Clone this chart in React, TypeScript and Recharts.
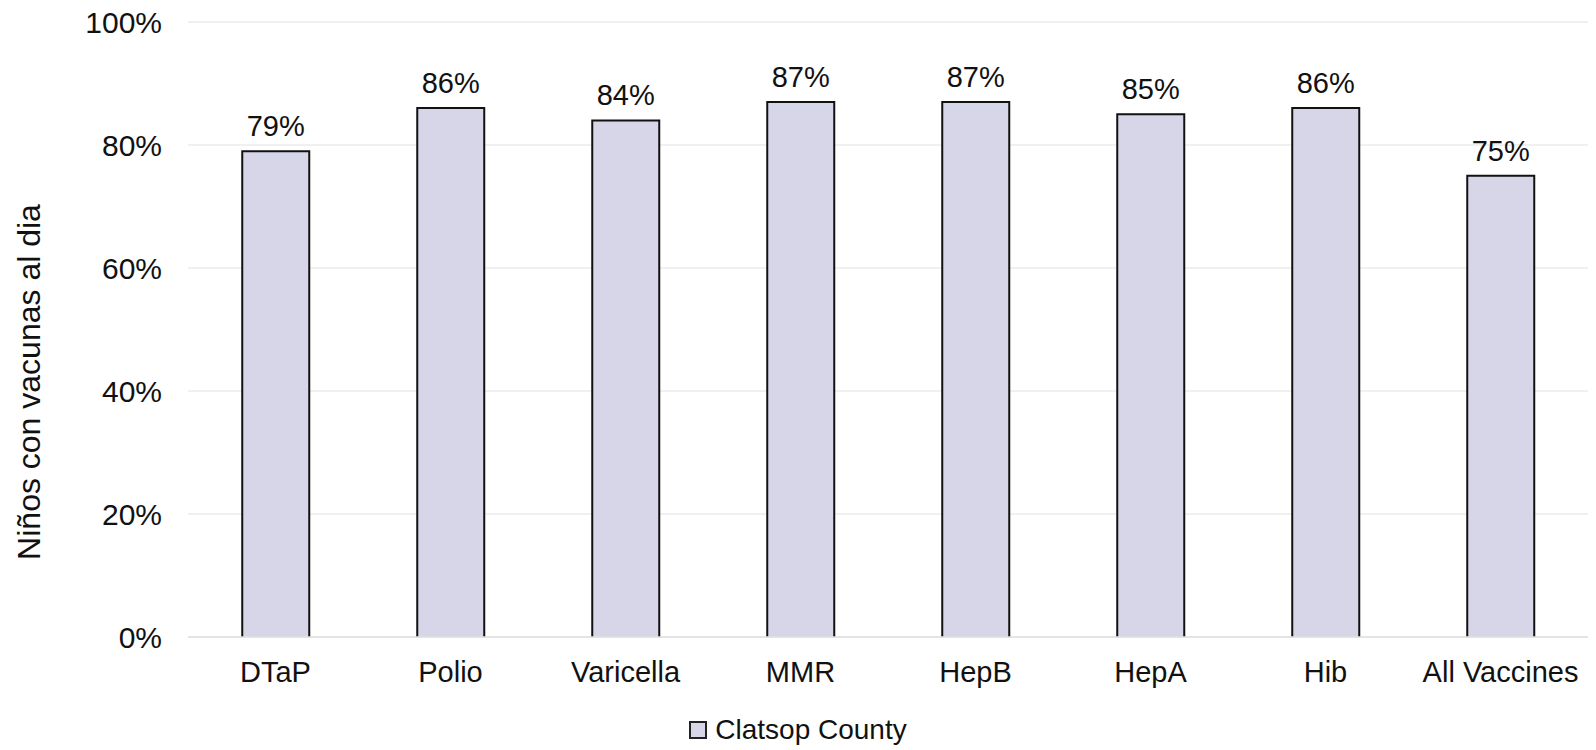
import { BarChart, Bar, XAxis, YAxis, CartesianGrid, Legend, LabelList, Label } from 'recharts'

const vacunas = ['DTaP', 'Polio', 'Varicella', 'MMR', 'HepB', 'HepA', 'Hib', 'All Vaccines']
const clatsop = [79, 86, 84, 87, 87, 85, 86, 75]
const yTicks = [0, 20, 40, 60, 80, 100]

const data = vacunas.map((v, i) => ({ vacuna: v, clatsop: clatsop[i] }))

const FONT = 'Arial, "Liberation Sans", sans-serif'
const FILL = '#d6d6e8'

function OpenBar(props: any) {
  const { x, y, width, height } = props
  if (!height) return null
  return (
    <g>
      <rect x={x} y={y} width={width} height={height} fill={FILL} />
      <path d={`M${x},${y + height} L${x},${y} L${x + width},${y} L${x + width},${y + height}`}
        fill='none' stroke='#111' strokeWidth={2} />
    </g>
  )
}

function LegendBox() {
  return (
    <div style={{ display:'flex', alignItems:'center', justifyContent:'center',
      fontFamily: FONT, fontSize:'28px', color:'#111', lineHeight:'32px' }}>
      <span style={{ display:'inline-block', width:'14px', height:'14px', background:FILL,
        border:'2px solid #222', marginRight:'8px' }} />
      Clatsop County
    </div>
  )
}

export default function App() {
  return (
    <div style={{ position:'absolute', left:0, top:0, width:1596, height:750, background:'#fff' }}>
      <BarChart width={1596} height={750} data={data}
        margin={{ top:22, right:8, left:68, bottom:51 }} barCategoryGap='31%'>
        <CartesianGrid vertical={false} stroke='#ebebeb' strokeWidth={1.5} />
        <XAxis dataKey='vacuna' axisLine={{ stroke:'#e0e0e0', strokeWidth:1.5 }} tickLine={false}
          tick={{ fontSize:29, fill:'#111', fontFamily:FONT }} tickMargin={18} interval={0} />
        <YAxis domain={[0, 100]} ticks={yTicks} width={120} axisLine={false} tickLine={false}
          tickFormatter={(v: number) => `${v}%`} tickMargin={20}
          tick={{ fontSize:30, fill:'#111', fontFamily:FONT }}>
          <Label content={() => (
            <text x={29} y={382} transform='rotate(-90 29 382)' textAnchor='middle'
              dominantBaseline='central' fontSize={32} fill='#111' fontFamily={FONT}>
              Niños con vacunas al dia
            </text>
          )} />
        </YAxis>
        <Legend verticalAlign='bottom' content={() => <LegendBox />}
          wrapperStyle={{ bottom:4, left:0, width:1596 }} />
        <Bar dataKey='clatsop' name='Clatsop County' fill={FILL} shape={<OpenBar />}
          isAnimationActive={false}>
          <LabelList dataKey='clatsop' position='top' offset={15}
            formatter={(v: any) => `${v}%`}
            style={{ fontSize:29, fill:'#111', fontFamily:FONT }} />
        </Bar>
      </BarChart>
    </div>
  )
}
